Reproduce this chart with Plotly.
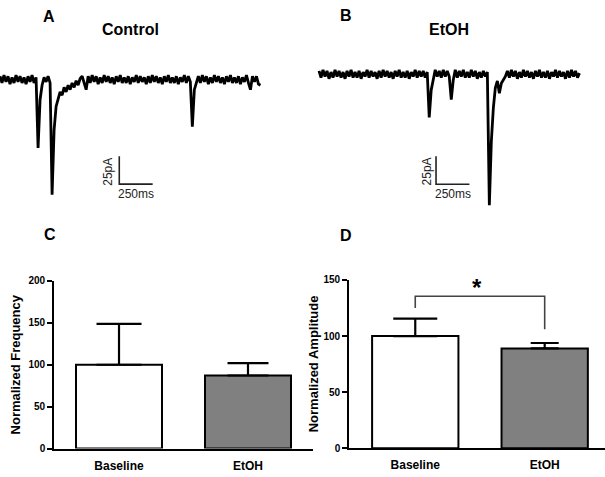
import plotly.graph_objects as go

# ---------------- data ----------------
categories = ["Baseline", "EtOH"]
freq_mean = [100.0, 87.2]
freq_sem = [48.8, 14.8]
amp_mean = [100.0, 89.0]
amp_sem = [15.5, 4.8]
freq_ticks = [0, 50, 100, 150, 200]
amp_ticks = [0, 50, 100, 150]
bar_colors = ["white", "#808080"]

# significance bracket (values on amplitude axis): left leg end, top, top, right leg end
sig_bracket_y = [125, 135.5, 135.5, 106]

# sweeps: current (pA) sampled every dt_ms
dt_ms = 15
control_trace_pA = [
    3, -3, 4, -2, 3, -4, 2, -3, 4, -2, 3, -3, 2, -4, 3, -2, 4, -3, 2,
    -61, -18, -5,
    2, -2, 3, -3,
    -103, -45, -24, -16, -11, -14, -7, -11, -5, -9, -3, -7, -1, -5, 1,
    3, -3, -9, 3, -3, 4, -2, 3, -4, 2,
    -3, 4, -2, 3, -3, 2, -4, 3, -2, 4,
    -3, 2, -3, 3, -4, 2, -2, 4, -3, 3,
    -2, 2, -4, 3, -3, 4, -2, 3, -3, 2,
    -4, 3, -2, 4, -3, 2, -3, 3, -4, 2,
    -2, 4, -3, 3, -2,
    -42, -9, -3,
    3, -3, 4, -2, 3, -4, 2, -3, 4, -2, 3, -3, 2, -4, 3, -2,
    4, -3, 2, -3, 3, -4, 2, -2, 4, -3, -9, 3, -2, 3, -4, -5,
]
etoh_trace_pA = [
    3, -3, 4, -2, 3, -4, 2, -3, 4, -2,
    3, -3, 2, -4, 3, -2, 4, -3, 2, -3,
    3, -4, 2, -2, 4, -3, 3, -2, 2, -4,
    3, -3, 4, -2, 3, -3, 2, -4, 3, -2,
    4, -3, 2, -3, 3, -4, 2, -2, 4, -3,
    3, -2, 3, -3, 2,
    -38.6, -14, -4,
    4, -2, 3, -3, 4, -2, 3, -2,
    -22.6, -5,
    4, -3, 3, -2, 4, -3, 2, -3, 4, -2, 3, -4, 2, -3, 3, -2, 2,
    -117, -60, -30, -12, -6, -17, -8, -5, -2,
    3, -3, 4, -2, 3, -4, 2, -3, 4, -2, 3, -3, 2, -4, 3, -2, 4, -3, 2,
    -3, 3, -4, 2, -2, 4, -3, 3, -2, 2, -4, 3, -3, 4, -2, 3, -3, 1,
]

scale_ms = 250
scale_pA = 25
control_scale_corner = (893, -93.4)
etoh_scale_corner = (876, -98.2)

# ---------------- figure ----------------
W, H = 605, 477
FONT = "Arial, Liberation Sans, Helvetica, sans-serif"


def px(x):
    return x / W


def py(y):
    return 1 - y / H


fig = go.Figure()

# bar panels
for axx, axy, means, sems, capw in [
    ("x", "y", freq_mean, freq_sem, [22.5, 20.5]),
    ("x2", "y2", amp_mean, amp_sem, [22, 14]),
]:
    for i, cat in enumerate(categories):
        fig.add_trace(go.Bar(
            x=[cat], y=[means[i]], xaxis=axx, yaxis=axy, width=0.667,
            marker=dict(color=bar_colors[i], line=dict(color="black", width=2)),
            error_y=dict(type="data", symmetric=False, array=[sems[i]], arrayminus=[0],
                         color="black", thickness=2.2, width=capw[i]),
            showlegend=False, hoverinfo="skip",
        ))

# significance bracket
fig.add_trace(go.Scatter(
    x=[categories[0], categories[0], categories[1], categories[1]], y=sig_bracket_y,
    xaxis="x2", yaxis="y2", mode="lines",
    line=dict(color="#444444", width=1.6), showlegend=False, hoverinfo="skip",
))

# sweeps
ctl_t = [i * dt_ms for i in range(len(control_trace_pA))]
eth_t = [i * dt_ms for i in range(len(etoh_trace_pA))]
fig.add_trace(go.Scatter(x=ctl_t, y=control_trace_pA, xaxis="x3", yaxis="y3", mode="lines",
                         line=dict(color="black", width=2.8), showlegend=False, hoverinfo="skip"))
fig.add_trace(go.Scatter(x=eth_t, y=etoh_trace_pA, xaxis="x4", yaxis="y4", mode="lines",
                         line=dict(color="black", width=2.8), showlegend=False, hoverinfo="skip"))

# scale bars
for axx, axy, (cx, cy) in [("x3", "y3", control_scale_corner), ("x4", "y4", etoh_scale_corner)]:
    fig.add_trace(go.Scatter(
        x=[cx, cx, cx + scale_ms], y=[cy + scale_pA, cy, cy],
        xaxis=axx, yaxis=axy, mode="lines",
        line=dict(color="#222222", width=1.6), showlegend=False, hoverinfo="skip",
    ))

tickfont = dict(family=FONT, size=10, color="black", weight="bold")
axis_common = dict(showline=True, linecolor="black", linewidth=1.6, showgrid=False,
                   zeroline=False, fixedrange=True)

fig.update_layout(
    width=W, height=H, margin=dict(l=0, r=0, t=0, b=0),
    paper_bgcolor="white", plot_bgcolor="rgba(0,0,0,0)",
    barmode="overlay", showlegend=False,
    xaxis=dict(domain=[px(54), px(313)], range=[-0.504, 1.504], anchor="y",
               ticks="", ticklabelstandoff=5,
               tickfont=dict(family=FONT, size=12, color="black", weight="bold"),
               **axis_common),
    yaxis=dict(domain=[1 - 454 / H, 1 - 282 / H], range=[0, 200], anchor="x",
               tickvals=freq_ticks, ticks="outside", ticklen=5, tickwidth=1.5, tickcolor="black",
               tickfont=tickfont, **axis_common),
    xaxis2=dict(domain=[px(349), 1.0], range=[-0.512, 1.466], anchor="y2",
                ticks="", ticklabelstandoff=5,
                tickfont=dict(family=FONT, size=12, color="black", weight="bold"),
                **axis_common),
    yaxis2=dict(domain=[1 - 453.7 / H, 1 - 281 / H], range=[0, 150], anchor="x2",
                tickvals=amp_ticks, ticks="outside", ticklen=5, tickwidth=1.5, tickcolor="black",
                tickfont=tickfont, **axis_common),
    xaxis3=dict(domain=[0, px(300)], range=[0, 2246], anchor="y3", visible=False),
    yaxis3=dict(domain=[1 - 210 / H, 1], range=[-117.2, 65.8], anchor="x3", visible=False),
    xaxis4=dict(domain=[px(300), 1.0], range=[-142.2, 2140.7], anchor="y4", visible=False),
    yaxis4=dict(domain=[1 - 210 / H, 1], range=[-121.9, 61.0], anchor="x4", visible=False),
)


def ann(text, x, y, size, bold=True, angle=0, color="black"):
    fig.add_annotation(
        text=text, x=px(x), y=py(y), xref="paper", yref="paper",
        xanchor="center", yanchor="middle", showarrow=False, textangle=angle,
        font=dict(family=FONT, size=size, color=color, weight="bold" if bold else "normal"),
    )


ann("A", 49, 11, 16)
ann("Control", 130.5, 24, 16)
ann("B", 346, 9.5, 16)
ann("EtOH", 449, 24, 16)
ann("C", 49.6, 234.7, 16)
ann("D", 346, 235.5, 16)
ann("Normalized Frequency", 15.7, 368, 13, angle=-90)
ann("Normalized Amplitude", 313.5, 367, 13, angle=-90)
ann("*", 476.7, 289, 24)
ann("25pA", 108, 170, 12, bold=False, angle=-90, color="#222222")
ann("250ms", 135.5, 192.5, 12, bold=False, color="#222222")
ann("25pA", 426.7, 170, 12, bold=False, angle=-90, color="#222222")
ann("250ms", 453.3, 192.5, 12, bold=False, color="#222222")

fig.write_html("out.html")
